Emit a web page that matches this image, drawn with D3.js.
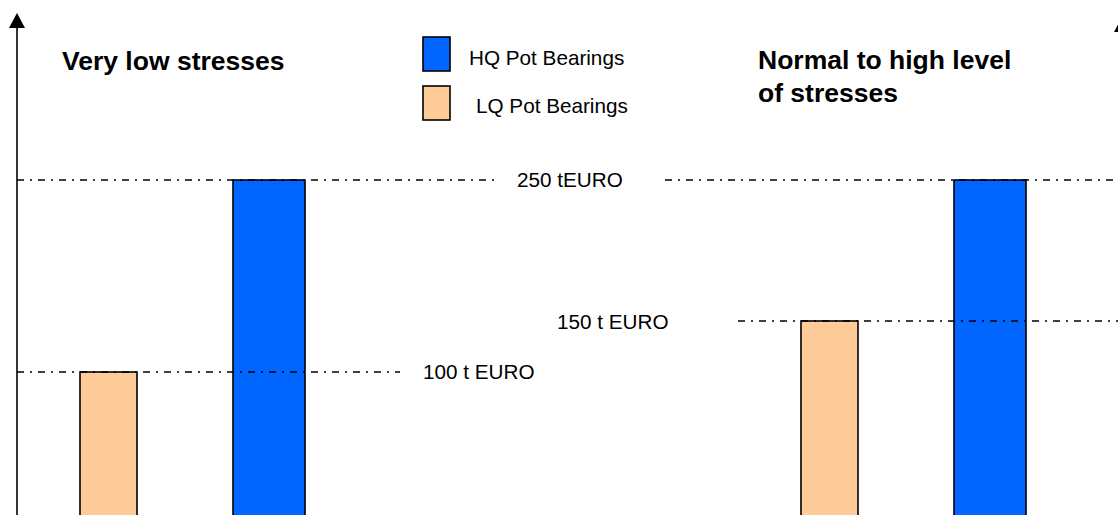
<!DOCTYPE html>
<html>
<head>
<meta charset="utf-8">
<script src="https://cdn.jsdelivr.net/npm/d3@7"></script>
<style>
  html, body { margin: 0; padding: 0; background: #fff; }
  svg { display: block; }
  text { font-family: Arial, "Liberation Sans", sans-serif; fill: #000; }
</style>
</head>
<body>
<svg id="chart" width="1118" height="515"></svg>
<script>
// Two stress scenarios, cost of low- vs high-quality pot bearings (thousand EUR)
const panels = ["Very low stresses", "Normal to high level of stresses"];
const panelTitles = [["Very low stresses"], ["Normal to high level", "of stresses"]];
const seriesNames = ["LQ Pot Bearings", "HQ Pot Bearings"];
const lqValues = [100, 150];
const hqValues = [250, 250];
const levelLabels = [["100 t EURO", "250 tEURO"], ["150 t EURO", null]];

const W = 1118, H = 515;
const svg = d3.select("#chart");

const colors = { "LQ Pot Bearings": "#FFCC99", "HQ Pot Bearings": "#0066FF" };
const barWidth = { "LQ Pot Bearings": 57, "HQ Pot Bearings": 72 };

// Schematic vertical scales, one per scenario
const yScales = [
  d3.scaleLinear().domain([100, 250]).range([372, 180]),
  d3.scaleLinear().domain([150, 250]).range([321, 180])
];

const panelX = d3.scalePoint().domain(panels).range([80, 801]);
const seriesX = d3.scaleOrdinal().domain(seriesNames).range([0, 153]);

const bars = [];
panels.forEach((p, i) => {
  bars.push({ panel: p, i, series: seriesNames[0], value: lqValues[i] });
  bars.push({ panel: p, i, series: seriesNames[1], value: hqValues[i] });
});

// Bars rise from below the visible frame
svg.append("g").selectAll("rect").data(bars).join("rect")
  .attr("x", d => panelX(d.panel) + seriesX(d.series))
  .attr("y", d => yScales[d.i](d.value))
  .attr("width", d => barWidth[d.series])
  .attr("height", d => H + 10 - yScales[d.i](d.value))
  .attr("fill", d => colors[d.series])
  .attr("stroke", "#000")
  .attr("stroke-width", 1.6);

// Dash-dot reference levels with value labels
const dash = "7,6,2,6";
const levels = [
  { y: yScales[0](250), segs: [[17, 495], [665, W + 5]] },
  { y: yScales[0](100), segs: [[17, 400]] },
  { y: yScales[1](150), segs: [[738, W + 5]] }
];
const gLines = svg.append("g");
levels.forEach(l => {
  l.segs.forEach(s => {
    gLines.append("line")
      .attr("x1", s[0]).attr("x2", s[1])
      .attr("y1", l.y).attr("y2", l.y)
      .attr("stroke", "#000").attr("stroke-width", 1.5)
      .attr("stroke-dasharray", dash);
  });
});

const labelFont = 20.7;
svg.append("text").attr("x", 517).attr("y", yScales[0](250) + 7)
  .attr("font-size", labelFont).text(levelLabels[0][1]);
svg.append("text").attr("x", 423).attr("y", yScales[0](100) + 7)
  .attr("font-size", labelFont).text(levelLabels[0][0]);
svg.append("text").attr("x", 557).attr("y", yScales[1](150) + 8)
  .attr("font-size", labelFont).text(levelLabels[1][0]);

// Panel titles
const titleX = [62, 758];
const titleY = [70, 69];
panelTitles.forEach((lines, i) => {
  const t = svg.append("text").attr("x", titleX[i]).attr("y", titleY[i])
    .attr("font-size", 26.5).attr("font-weight", "bold");
  lines.forEach((ln, k) => {
    t.append("tspan").attr("x", titleX[i]).attr("dy", k === 0 ? 0 : 32.5).text(ln);
  });
});

// Legend
const legend = [
  { name: "HQ Pot Bearings", y: 37, tx: 469, ty: 65 },
  { name: "LQ Pot Bearings", y: 86, tx: 476, ty: 113 }
];
const gLeg = svg.append("g");
legend.forEach(d => {
  gLeg.append("rect").attr("x", 423).attr("y", d.y).attr("width", 27).attr("height", 34)
    .attr("fill", colors[d.name]).attr("stroke", "#000").attr("stroke-width", 1.6);
  gLeg.append("text").attr("x", d.tx).attr("y", d.ty).attr("font-size", labelFont).text(d.name);
});

// Vertical axes with arrowheads
function axisArrow(x, tipY) {
  const g = svg.append("g");
  g.append("line").attr("x1", x).attr("x2", x).attr("y1", tipY + 10).attr("y2", H + 5)
    .attr("stroke", "#000").attr("stroke-width", 1.6);
  g.append("path")
    .attr("d", d3.line()([[x, tipY], [x - 8, tipY + 15], [x + 8, tipY + 15]]) + "Z")
    .attr("fill", "#000");
}
axisArrow(17, 13);
axisArrow(1122, 17);
</script>
</body>
</html>
